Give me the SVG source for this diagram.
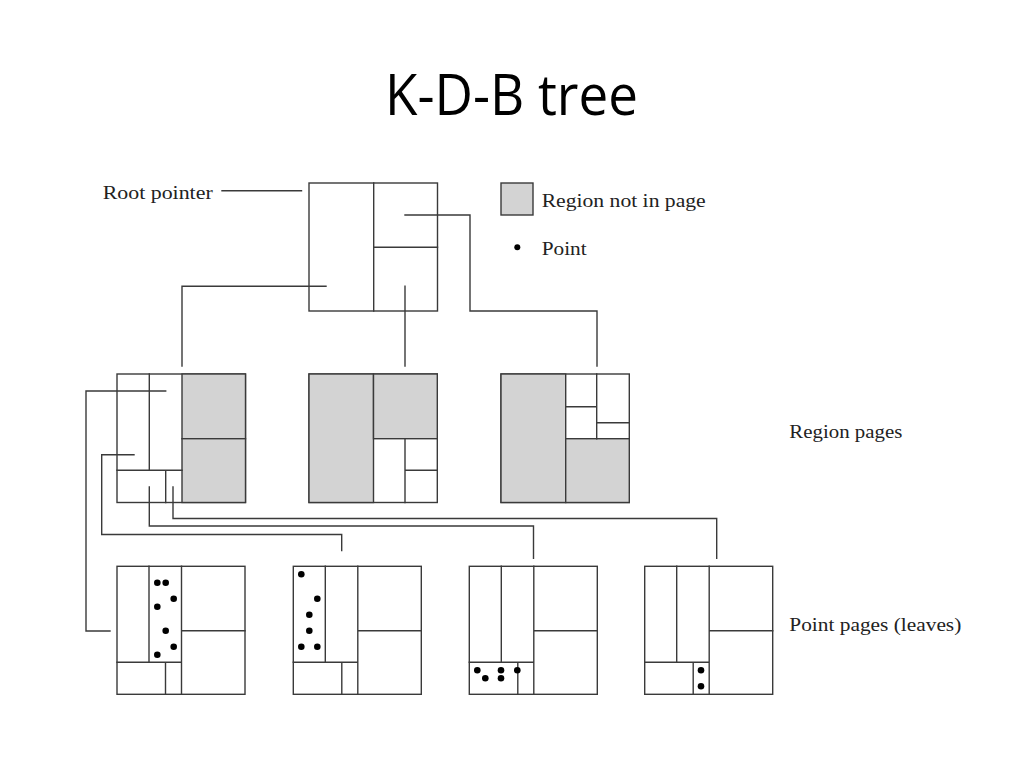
<svg xmlns="http://www.w3.org/2000/svg" xmlns:xlink="http://www.w3.org/1999/xlink" width="1024" height="768" viewBox="0 0 1024 768">
<style>
.ln{fill:none;stroke:#3a3a3a;stroke-width:1.4;stroke-linecap:square}
.box{fill:#ffffff;stroke:#3a3a3a;stroke-width:1.4}
.gray{fill:#d3d3d3;stroke:#3a3a3a;stroke-width:1.4}
.pt{fill:#000000}
.lbl{font-family:"Liberation Serif","DejaVu Serif",serif;font-size:19px;fill:#222222}
.title{font-family:"Open Sans","Liberation Sans",sans-serif;font-size:56px;fill:#000000}
</style>
<defs>
<g id="leaf">
<rect class="box" x="0" y="0" width="128" height="128"/>
<path class="ln" d="M32,0V96M64.5,0V128M0,96H64.5M48.5,96V128M64.5,64.5H128"/>
</g>
</defs>
<rect width="1024" height="768" fill="#ffffff"/>
<text class="title" x="385" y="115" textLength="253" lengthAdjust="spacingAndGlyphs">K-D-B tree</text>

<g id="root-page">
<rect class="box" x="309" y="183" width="128.5" height="128"/>
<path class="ln" d="M373.7,183V311M373.7,247.3H437.5"/>
</g>

<g id="legend">
<rect class="gray" x="501" y="183" width="32" height="32"/>
<text class="lbl" x="541.7" y="207" textLength="164" lengthAdjust="spacingAndGlyphs">Region not in page</text>
<circle class="pt" cx="517.3" cy="247.3" r="3"/>
<text class="lbl" x="541.7" y="255" textLength="45" lengthAdjust="spacingAndGlyphs">Point</text>
</g>

<g id="root-pointer-label">
<text class="lbl" x="102.7" y="199" textLength="110" lengthAdjust="spacingAndGlyphs">Root pointer</text>
</g>

<g id="region-page-1">
<rect class="box" x="117" y="374" width="128.5" height="128.5"/>
<rect class="gray" x="182" y="374" width="63.5" height="64.7"/>
<rect class="gray" x="182" y="438.7" width="63.5" height="63.8"/>
<path class="ln" d="M149.3,374V470.3M117,470.3H182M165.7,470.3V502.5"/>
</g>

<g id="region-page-2">
<rect class="box" x="309" y="374" width="128.3" height="128.5"/>
<rect class="gray" x="309" y="374" width="64.5" height="128.5"/>
<rect class="gray" x="373.5" y="374" width="63.8" height="64.7"/>
<path class="ln" d="M405,438.7V502.5M405,470.3H437.3"/>
</g>

<g id="region-page-3">
<rect class="box" x="501" y="374" width="128.3" height="128.5"/>
<rect class="gray" x="501" y="374" width="64.7" height="128.5"/>
<rect class="gray" x="565.7" y="438.7" width="63.6" height="63.8"/>
<path class="ln" d="M596.7,374V438.7M565.7,406.7H596.7M596.7,422.7H629.3"/>
</g>

<g id="point-page-1">
<use xlink:href="#leaf" href="#leaf" x="117" y="566.3"/>
<circle class="pt" cx="157.3" cy="582.7" r="3.3"/>
<circle class="pt" cx="165.7" cy="582.7" r="3.3"/>
<circle class="pt" cx="173.7" cy="598.7" r="3.3"/>
<circle class="pt" cx="157.3" cy="606.7" r="3.3"/>
<circle class="pt" cx="165.7" cy="630.7" r="3.3"/>
<circle class="pt" cx="173.7" cy="646.7" r="3.3"/>
<circle class="pt" cx="157.3" cy="654.7" r="3.3"/>
</g>

<g id="point-page-2">
<use xlink:href="#leaf" href="#leaf" x="293.3" y="566.3"/>
<circle class="pt" cx="301.3" cy="574.3" r="3.3"/>
<circle class="pt" cx="317.3" cy="598.7" r="3.3"/>
<circle class="pt" cx="309.3" cy="614.7" r="3.3"/>
<circle class="pt" cx="309.3" cy="630.7" r="3.3"/>
<circle class="pt" cx="301.3" cy="646.7" r="3.3"/>
<circle class="pt" cx="317.3" cy="646.7" r="3.3"/>
</g>

<g id="point-page-3">
<use xlink:href="#leaf" href="#leaf" x="469.3" y="566.3"/>
<circle class="pt" cx="477.3" cy="670.3" r="3.3"/>
<circle class="pt" cx="485.3" cy="678.3" r="3.3"/>
<circle class="pt" cx="501" cy="670.3" r="3.3"/>
<circle class="pt" cx="501" cy="678.3" r="3.3"/>
<circle class="pt" cx="517.3" cy="670.3" r="3.3"/>
</g>

<g id="point-page-4">
<use xlink:href="#leaf" href="#leaf" x="644.7" y="566.3"/>
<circle class="pt" cx="701" cy="670.3" r="3.3"/>
<circle class="pt" cx="701" cy="686.3" r="3.3"/>
</g>

<g id="level-labels">
<text class="lbl" x="789.3" y="438.3" textLength="113" lengthAdjust="spacingAndGlyphs">Region pages</text>
<text class="lbl" x="789.3" y="630.5" textLength="172" lengthAdjust="spacingAndGlyphs">Point pages (leaves)</text>
</g>

<g id="connectors">
<path class="ln" d="M222,190.7H301.5"/>
<path class="ln" d="M405,215H470V311H597V366"/>
<path class="ln" d="M326,286.3H182V366"/>
<path class="ln" d="M405,286.3V366"/>
<path class="ln" d="M165.7,391H86V631H110"/>
<path class="ln" d="M134,454.7H101.7V534.5H341.7V550.5"/>
<path class="ln" d="M149.3,487V526H533.5V558.3"/>
<path class="ln" d="M173,487V518.5H716.7V558.3"/>
</g>
</svg>
